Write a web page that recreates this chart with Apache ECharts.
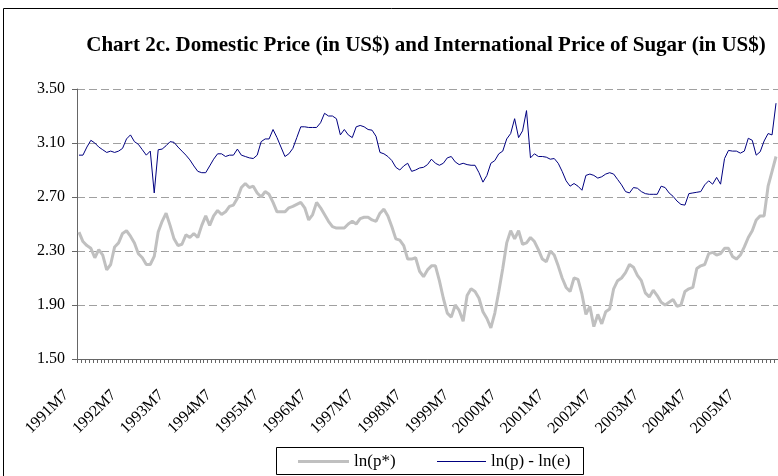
<!DOCTYPE html>
<html><head><meta charset="utf-8">
<script src="https://cdn.jsdelivr.net/npm/echarts@6/dist/echarts.min.js"></script>
<style>html,body{margin:0;padding:0;background:#fff}#c{width:778px;height:476px}</style>
</head><body><div id="c"></div>
<script>
// Monthly categories 1991M7 .. 2006M3
const startYear = 1991, startMonth = 7, monthCount = 177;
const categories = [];
for (let k = 0; k < monthCount; k++) {
  const m = startMonth - 1 + k;
  categories.push((startYear + Math.floor(m / 12)) + 'M' + (m % 12 + 1));
}
const yMin = 1.5, yMax = 3.5, yInterval = 0.4;

// ln(p*) : international price (grey)
const lnPStar = [
2.44,2.37,2.34,2.32,2.25,2.31,2.27,2.16,2.20,2.33,
2.36,2.43,2.45,2.41,2.36,2.28,2.25,2.20,2.20,2.26,
2.44,2.52,2.58,2.49,2.39,2.34,2.35,2.42,2.40,2.43,
2.40,2.49,2.56,2.49,2.56,2.60,2.57,2.59,2.63,2.64,
2.69,2.77,2.80,2.77,2.78,2.73,2.70,2.74,2.72,2.66,
2.59,2.59,2.59,2.62,2.63,2.645,2.66,2.62,2.53,2.57,
2.66,2.62,2.57,2.52,2.48,2.47,2.47,2.47,2.50,2.52,
2.50,2.54,2.55,2.55,2.53,2.52,2.58,2.61,2.56,2.48,
2.39,2.38,2.34,2.24,2.24,2.25,2.15,2.11,2.16,2.19,
2.19,2.08,1.95,1.84,1.81,1.90,1.86,1.78,1.97,2.02,
2.00,1.95,1.85,1.80,1.73,1.84,2.00,2.17,2.36,2.45,
2.39,2.45,2.35,2.36,2.40,2.37,2.31,2.24,2.22,2.30,
2.27,2.19,2.10,2.03,2.00,2.10,2.09,1.98,1.83,1.89,
1.74,1.83,1.76,1.85,1.87,2.02,2.08,2.10,2.14,2.20,
2.18,2.12,2.08,1.99,1.96,2.01,1.97,1.92,1.90,1.92,
1.94,1.89,1.90,2.00,2.02,2.03,2.17,2.19,2.20,2.28,
2.29,2.27,2.28,2.32,2.32,2.26,2.24,2.27,2.33,2.40,
2.45,2.53,2.56,2.56,2.78,2.89,3.00
];

// ln(p) - ln(e) : domestic price in US$ (blue)
const lnPminusLnE = [
3.01,3.01,3.07,3.12,3.10,3.07,3.05,3.03,3.04,3.03,
3.04,3.06,3.13,3.16,3.11,3.09,3.05,3.01,3.04,2.73,
3.05,3.055,3.08,3.11,3.105,3.07,3.04,3.01,2.975,2.93,
2.89,2.88,2.88,2.93,2.98,3.02,3.02,3.00,3.01,3.01,
3.055,3.01,3.00,2.99,2.985,3.01,3.11,3.13,3.13,3.20,
3.14,3.07,3.00,3.02,3.06,3.14,3.22,3.22,3.215,3.215,
3.215,3.25,3.32,3.30,3.30,3.28,3.16,3.20,3.16,3.14,
3.22,3.23,3.22,3.20,3.195,3.15,3.03,3.02,3.00,2.97,
2.92,2.90,2.93,2.95,2.89,2.90,2.915,2.92,2.94,2.98,
2.95,2.935,2.95,2.99,3.00,2.96,2.94,2.95,2.94,2.935,
2.935,2.88,2.81,2.86,2.95,2.97,3.02,3.04,3.13,3.17,
3.28,3.14,3.19,3.34,2.99,3.02,3.00,3.00,2.995,2.98,
2.985,2.95,2.89,2.82,2.78,2.80,2.78,2.75,2.86,2.87,
2.86,2.84,2.85,2.87,2.88,2.87,2.83,2.79,2.74,2.73,
2.77,2.765,2.74,2.725,2.72,2.72,2.72,2.78,2.77,2.73,
2.705,2.67,2.645,2.64,2.725,2.73,2.735,2.74,2.79,2.82,
2.795,2.845,2.795,2.985,3.045,3.04,3.04,3.025,3.04,3.135,
3.12,3.01,3.035,3.115,3.17,3.16,3.395
];

const FONT = "'Liberation Serif', 'Times New Roman', serif";
const GREY = '#c0c0c0', NAVY = '#000080';
const chart = echarts.init(document.getElementById('c'), null, {renderer: 'canvas'});
chart.setOption({
  animation: false,
  backgroundColor: '#fff',
  title: {
    text: 'Chart 2c. Domestic Price (in US$) and International Price of Sugar (in US$)',
    left: 421, top: 30, textAlign: 'center',
    textStyle: {fontFamily: FONT, fontWeight: 'bold', fontSize: 21, color: '#000'}
  },
  graphic: [
    {type: 'rect', silent: true, z: -1,
      shape: {x: 3.5, y: 8.5, width: 900, height: 600},
      style: {fill: 'none', stroke: '#000', lineWidth: 1}},
    {type: 'rect', silent: true, z: -1,
      shape: {x: 276.5, y: 447.5, width: 307, height: 27},
      style: {fill: 'none', stroke: '#000', lineWidth: 1}}
  ],
  legend: [
    {left: 298, top: 453, padding: 0, icon: 'rect', itemWidth: 51, itemHeight: 3,
      textStyle: {fontFamily: FONT, fontSize: 17, color: '#000'},
      data: ['ln(p*)']},
    {left: 437, top: 453, padding: 0, icon: 'rect', itemWidth: 49, itemHeight: 1,
      textStyle: {fontFamily: FONT, fontSize: 17, color: '#000'},
      data: ['ln(p) - ln(e)']}
  ],
  grid: {left: 77, top: 89, height: 270, right: 0, containLabel: false},
  xAxis: {
    type: 'category', data: categories, boundaryGap: true,
    axisLine: {lineStyle: {color: '#666', width: 1}},
    axisTick: {show: true, interval: 0, length: 4, alignWithLabel: false, lineStyle: {color: '#666'}},
    axisLabel: {interval: 11, rotate: 45, margin: 21, padding: [0, 18, 0, 0],
      fontFamily: FONT, fontSize: 16, color: '#000'},
    splitLine: {show: false}
  },
  yAxis: {
    type: 'value', min: yMin, max: yMax, interval: yInterval,
    axisLine: {show: true, lineStyle: {color: '#666', width: 1}},
    axisTick: {show: true, length: 5, lineStyle: {color: '#666'}},
    axisLabel: {margin: 12, fontFamily: FONT, fontSize: 16, color: '#000',
      formatter: v => v.toFixed(2)},
    splitLine: {show: true, lineStyle: {color: '#a0a0a0', width: 1, type: [8, 4]}}
  },
  series: [
    {name: 'ln(p*)', type: 'line', data: lnPStar, symbol: 'none', smooth: false,
      lineStyle: {color: GREY, width: 3}, itemStyle: {color: GREY}, z: 2},
    {name: 'ln(p) - ln(e)', type: 'line', data: lnPminusLnE, symbol: 'none', smooth: false,
      lineStyle: {color: NAVY, width: 1}, itemStyle: {color: NAVY}, z: 3}
  ]
});
</script></body></html>
